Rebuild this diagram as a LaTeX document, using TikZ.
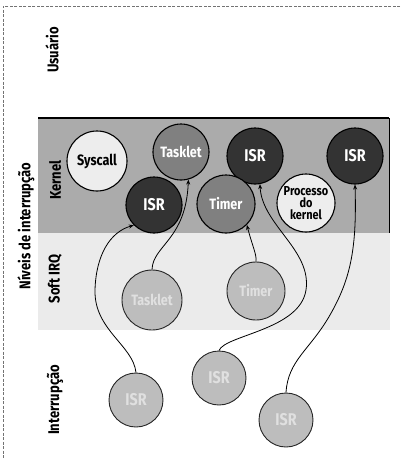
\documentclass[tikz,border=0pt]{standalone}
\usepackage{fontspec}
\setmainfont{Fira Sans}
\newfontfamily\cnd[FakeStretch=0.84]{Fira Sans}
\usetikzlibrary{arrows.meta}
\tikzset{
  lbl/.style={rotate=90, font=\cnd\bfseries\fontsize{15.5}{15}\selectfont, inner sep=0pt},
  circ/.style={circle, draw=black, line width=1.1pt, inner sep=0pt, align=center,
    font=\cnd\bfseries\fontsize{15}{15}\selectfont},
  darkc/.style={circ, fill=black!80, text=white},
  midc/.style={circ, fill=black!50, text=white},
  lightc/.style={circ, fill=black!7, text=black},
  fadec/.style={circ, fill=black!26, text=black!12, draw=black!85, line width=0.9pt},
  bigt/.style={font=\cnd\bfseries\fontsize{17}{17}\selectfont},
  arr/.style={-{Stealth[length=5pt,width=4pt]}, line width=0.8pt, black},
  border/.style={draw=black!55, line width=0.8pt, dash pattern=on 3pt off 1.5pt}
}
\begin{document}
\begin{tikzpicture}[x=1pt,y=-1pt]
\useasboundingbox (0,0) rectangle (400,459);
% outer dashed border
\draw[border] (400,6) -- (3,6) -- (3,459);
% soft irq region
\fill[black!8] (38,233) rectangle (390,330);
% kernel band
\fill[black!33] (38,118) rectangle (389,233);
\draw[line width=1.6pt] (38,118) -- (389,118);
\draw[line width=1pt] (389,118) -- (389,233);
% labels
\node[lbl] (lu) at (52,50) {Usuário};
\node[lbl] (ln) at (26,226) {Níveis de interrupção};
\node[lbl] (lk) at (55,180) {Kernel};
\node[lbl] (ls) at (55,279) {Soft IRQ};
\node[lbl] (li) at (55,400) {Interrupção};
% kernel circles
\node[lightc, minimum size=60pt] (sys) at (97,161) {Syscall};
\node[midc, minimum size=56pt] (tk) at (181,152) {Tasklet};
\node[darkc, bigt, minimum size=56pt] (k1) at (255,156) {ISR};
\node[darkc, bigt, minimum size=56pt] (k2) at (355,156) {ISR};
\node[darkc, bigt, minimum size=56pt] (k3) at (154,205) {ISR};
\node[midc, minimum size=58pt] (tm) at (226,204) {Timer};
\node[lightc, minimum size=58pt, font=\cnd\bfseries\fontsize{13}{12}\selectfont] (pk) at (306,203) {Processo\\do\\kernel};
% soft irq circles
\node[fadec, minimum size=60pt] (stk) at (152,300) {Tasklet};
\node[fadec, minimum size=58pt] (stm) at (256,291) {Timer};
% interrupt circles
\node[fadec, bigt, minimum size=54pt] (i1) at (136,400) {ISR};
\node[fadec, bigt, minimum size=54pt] (i2) at (219,378) {ISR};
\node[fadec, bigt, minimum size=54pt] (i3) at (286,420) {ISR};
% connectors
\draw[arr] (i1.north) .. controls (133,345) and (94,330) .. (95,290)
  .. controls (96,255) and (110,232) .. (k3.225);
\draw[arr] (stk.north) .. controls (153,245) and (186,240) .. (tk.285);
\draw[arr] (stm.north) .. controls (257,255) and (252,245) .. (tm.-45);
\draw[arr] (i2.north) .. controls (225,335) and (300,330) .. (306,290)
  .. controls (312,250) and (262,225) .. (k1.-80);
\draw[arr] (i3.north) .. controls (288,360) and (310,350) .. (330,315)
  .. controls (350,280) and (357,250) .. (k2.-90);
\end{tikzpicture}
\end{document}
